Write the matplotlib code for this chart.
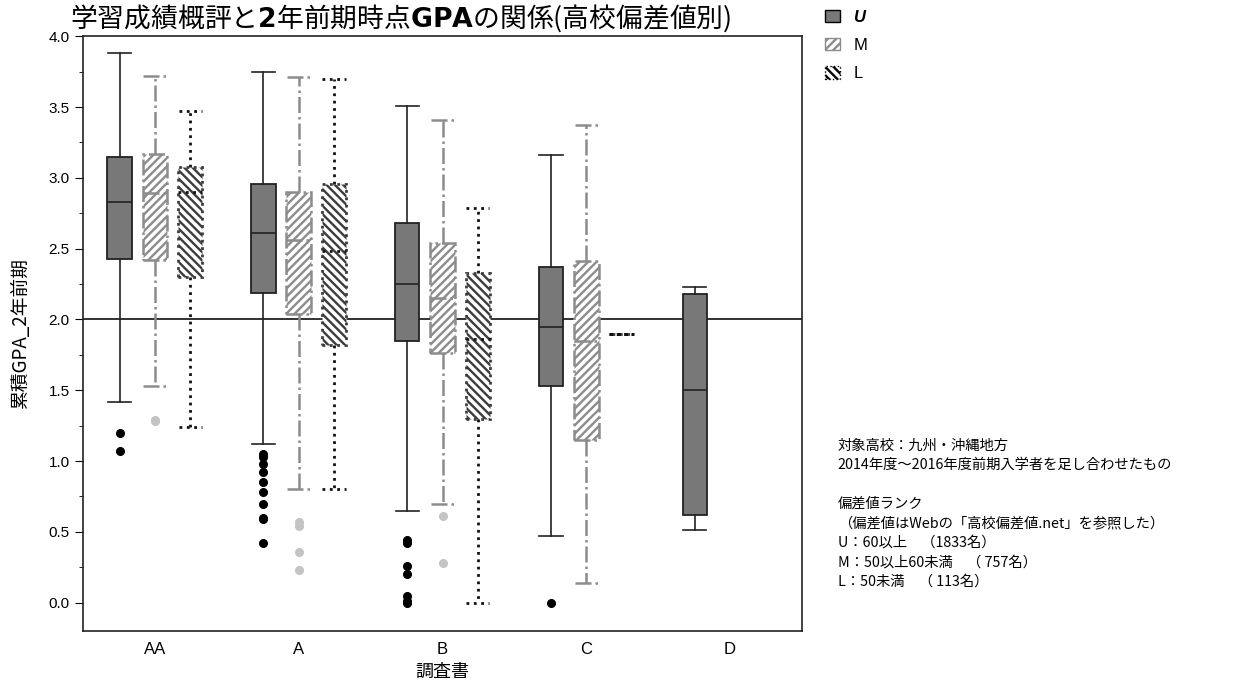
import matplotlib
matplotlib.use("Agg")
import matplotlib.pyplot as plt
from matplotlib.patches import Patch

plt.rcParams["font.family"] = ["Noto Sans CJK JP", "DejaVu Sans"]
plt.rcParams["hatch.linewidth"] = 1.7

# 調査書 categories and box stats (whislo, q1, med, q3, whishi) per rank
categories = ["AA", "A", "B", "C", "D"]

u_stats = [
    [1.42, 2.43, 2.83, 3.15, 3.88],
    [1.12, 2.19, 2.61, 2.96, 3.75],
    [0.65, 1.85, 2.25, 2.68, 3.51],
    [0.47, 1.53, 1.95, 2.37, 3.16],
    [0.51, 0.62, 1.50, 2.18, 2.23],
]
u_fliers = [
    [1.20, 1.07],
    [1.05, 1.03, 0.98, 0.92, 0.85, 0.78, 0.70, 0.60, 0.59, 0.42],
    [0.44, 0.42, 0.26, 0.20, 0.05, 0.01, 0.0],
    [0.0],
    [],
]
m_stats = [
    [1.53, 2.42, 2.89, 3.17, 3.72],
    [0.80, 2.04, 2.56, 2.90, 3.71],
    [0.70, 1.76, 2.15, 2.54, 3.41],
    [0.14, 1.15, 1.85, 2.41, 3.37],
    None,
]
m_fliers = [
    [1.29, 1.28],
    [0.57, 0.54, 0.36, 0.23],
    [0.61, 0.28],
    [],
    [],
]
l_stats = [
    [1.24, 2.30, 2.90, 3.08, 3.47],
    [0.80, 1.82, 2.48, 2.96, 3.70],
    [0.00, 1.30, 1.86, 2.33, 2.79],
    [1.90, 1.90, 1.90, 1.90, 1.90],
    None,
]
l_fliers = [[], [], [], [], []]

yticks = [0.0, 0.5, 1.0, 1.5, 2.0, 2.5, 3.0, 3.5, 4.0]
title = r"学習成績概評と$\mathbf{2}$年前期時点$\mathbf{GPA}$の関係(高校偏差値別)"
note = ("対象高校：九州・沖縄地方\n"
        "2014年度～2016年度前期入学者を足し合わせたもの\n"
        "\n"
        "偏差値ランク\n"
        "（偏差値はWebの「高校偏差値.net」を参照した）\n"
        "U：60以上　（1833名）\n"
        "M：50以上60未満　（ 757名）\n"
        "L：50未満　（ 113名）")


def to_bxp(stats, fliers):
    out, pos = [], []
    for i, (s, f) in enumerate(zip(stats, fliers)):
        if s is None:
            continue
        out.append({"whislo": s[0], "q1": s[1], "med": s[2], "q3": s[3],
                    "whishi": s[4], "fliers": f})
        pos.append(i)
    return out, pos


fig = plt.figure(figsize=(12.58, 6.84), dpi=100)
ax = fig.add_axes([0.066, 0.0775, 0.5715, 0.8695])

width = 0.17
series = [
    (u_stats, u_fliers, -0.245,
     dict(facecolor="#787878", edgecolor="#222222", linewidth=1.3),
     dict(color="#222222", linewidth=1.2, linestyle="-"),
     dict(marker="o", markerfacecolor="black", markeredgecolor="black", markersize=5.5)),
    (m_stats, m_fliers, 0.0,
     dict(facecolor="white", edgecolor="#8c8c8c", hatch="////", linewidth=1.8, linestyle="-."),
     dict(color="#8c8c8c", linewidth=1.8, linestyle="-."),
     dict(marker="o", markerfacecolor="#c4c4c4", markeredgecolor="#c4c4c4", markersize=5.5)),
    (l_stats, l_fliers, 0.245,
     dict(facecolor="white", edgecolor="#3c3c3c", hatch="\\\\\\\\", linewidth=2.0, linestyle=":"),
     dict(color="#111111", linewidth=2.0, linestyle=":"),
     dict(marker="o", markerfacecolor="black", markeredgecolor="black", markersize=5.5)),
]

for stats, fliers, off, boxp, linep, flierp in series:
    bx, pos = to_bxp(stats, fliers)
    ax.bxp(bx, positions=[p + off for p in pos], widths=width, patch_artist=True,
           boxprops=boxp, whiskerprops=linep, capprops=linep,
           medianprops=dict(color=linep["color"], linewidth=linep["linewidth"],
                            linestyle=linep["linestyle"]),
           flierprops=flierp, capwidths=width * 0.95)

ax.axhline(2.0, color="#222222", linewidth=1.3, zorder=0)

ax.set_xlim(-0.5, 4.5)
ax.set_ylim(-0.2, 4.0)
ax.set_xticks(range(len(categories)))
ax.set_xticklabels(categories, fontsize=12, family="Liberation Sans")
ax.set_yticks(yticks)
ax.set_yticklabels([f"{v:.1f}" for v in yticks], fontsize=11, family="Liberation Sans")
ax.set_yticks([0.25, 0.75, 1.25, 1.75, 2.25, 2.75, 3.25, 3.75], minor=True)
ax.tick_params(axis="y", which="major", length=6)
ax.tick_params(axis="y", which="minor", length=3)
ax.tick_params(axis="x", length=0, pad=8)
for sp in ax.spines.values():
    sp.set_linewidth(1.2)
    sp.set_color("#222222")

ax.set_xlabel("調査書", fontsize=13, labelpad=4)
ax.set_ylabel("累積GPA_2年前期", fontsize=13.5, labelpad=13)
fig.text(0.056, 0.951, title, fontsize=19.3, ha="left", va="bottom")

handles = [
    Patch(facecolor="#787878", edgecolor="black"),
    Patch(facecolor="white", edgecolor="#8c8c8c", hatch="////"),
    Patch(facecolor="white", edgecolor="black", hatch="\\\\\\\\", linestyle=":"),
]
leg = fig.legend(handles, ["U", "M", "L"], loc="upper left", bbox_to_anchor=(0.644, 1.008),
                 frameon=False, handlelength=0.9, handleheight=0.8,
                 handletextpad=0.8, labelspacing=0.78,
                 prop={"family": "Liberation Sans", "size": 12})
leg.get_texts()[0].set_fontstyle("italic")
leg.get_texts()[0].set_fontweight("bold")

fig.text(0.666, 0.359, note, fontsize=10.3, ha="left", va="top", linespacing=1.5)

fig.savefig("out.png", dpi=100)
